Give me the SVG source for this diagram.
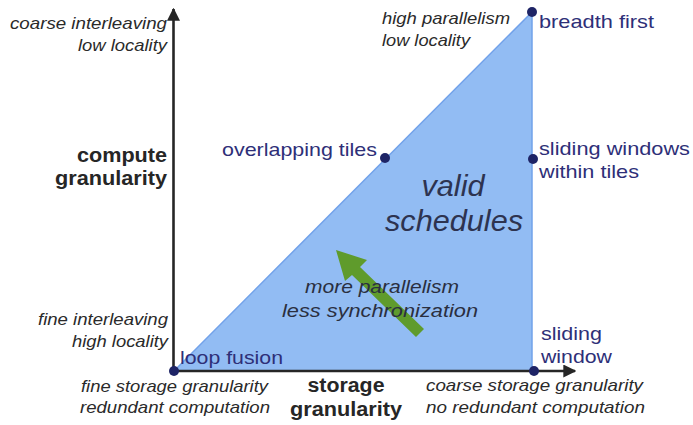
<svg xmlns="http://www.w3.org/2000/svg" width="693" height="425" viewBox="0 0 693 425">
  <defs>
    <marker id="axisHead" viewBox="0 0 10 10" refX="9" refY="5" markerWidth="5" markerHeight="5" markerUnits="strokeWidth" orient="auto">
      <path d="M0,0 L10,5 L0,10 Z" fill="#262626"/>
    </marker>
  </defs>
  <style>
    text { font-family: "Liberation Sans", Arial, Helvetica, sans-serif; }
    .note { font-size: 17px; font-style: italic; fill: #2a2a2a; }
    .axis-title { font-size: 20px; font-weight: bold; fill: #262626; }
    .point-label { font-size: 19px; fill: #2e2f78; }
    .region { font-size: 30px; font-style: italic; fill: #2d3350; }
    .trend { font-size: 19px; font-style: italic; fill: #2a2f40; }
    .dot { fill: #1e2466; }
    .axis { stroke: #262626; stroke-width: 2.6; fill: none; }
  </style>

  <!-- region of valid schedules -->
  <g id="valid-region">
    <polygon points="174,371 532,12 532,371" fill="#92bcf3" stroke="#72a2ea" stroke-width="1.5"/>
    <text class="region" x="453" y="196" text-anchor="middle" textLength="63" lengthAdjust="spacingAndGlyphs">valid</text>
    <text class="region" x="454" y="231" text-anchor="middle" textLength="138" lengthAdjust="spacingAndGlyphs">schedules</text>
  </g>

  <!-- axes -->
  <g id="connectors">
    <line class="axis" x1="173.5" y1="372" x2="173.5" y2="9" marker-end="url(#axisHead)"/>
    <line class="axis" x1="172" y1="371" x2="575" y2="371" marker-end="url(#axisHead)"/>
  </g>

  <!-- trend arrow -->
  <g id="trend-arrow">
    <polygon points="336,250 367,260 360,267 424,329 416,337 352,275 345,281" fill="#5f9b2c"/>
    <text class="trend" x="305" y="293" textLength="154" lengthAdjust="spacingAndGlyphs">more parallelism</text>
    <text class="trend" x="282" y="317" textLength="196" lengthAdjust="spacingAndGlyphs">less synchronization</text>
  </g>

  <!-- axis titles -->
  <g id="compute-granularity">
    <text class="axis-title" x="167" y="162" text-anchor="end" textLength="90" lengthAdjust="spacingAndGlyphs">compute</text>
    <text class="axis-title" x="167" y="185" text-anchor="end" textLength="112" lengthAdjust="spacingAndGlyphs">granularity</text>
  </g>
  <g id="storage-granularity">
    <text class="axis-title" x="346" y="392" text-anchor="middle" textLength="77" lengthAdjust="spacingAndGlyphs">storage</text>
    <text class="axis-title" x="346" y="416" text-anchor="middle" textLength="112" lengthAdjust="spacingAndGlyphs">granularity</text>
  </g>

  <!-- axis extremes -->
  <g id="coarse-interleaving">
    <text class="note" x="167" y="29" text-anchor="end" textLength="157" lengthAdjust="spacingAndGlyphs">coarse interleaving</text>
    <text class="note" x="167" y="51" text-anchor="end" textLength="89" lengthAdjust="spacingAndGlyphs">low locality</text>
  </g>
  <g id="fine-interleaving">
    <text class="note" x="168" y="325" text-anchor="end" textLength="130" lengthAdjust="spacingAndGlyphs">fine interleaving</text>
    <text class="note" x="168" y="347" text-anchor="end" textLength="96" lengthAdjust="spacingAndGlyphs">high locality</text>
  </g>
  <g id="fine-storage">
    <text class="note" x="81" y="392" textLength="187" lengthAdjust="spacingAndGlyphs">fine storage granularity</text>
    <text class="note" x="80" y="413" textLength="190" lengthAdjust="spacingAndGlyphs">redundant computation</text>
  </g>
  <g id="coarse-storage">
    <text class="note" x="426" y="391" textLength="217" lengthAdjust="spacingAndGlyphs">coarse storage granularity</text>
    <text class="note" x="426" y="413" textLength="219" lengthAdjust="spacingAndGlyphs">no redundant computation</text>
  </g>
  <g id="high-parallelism">
    <text class="note" x="382" y="24" textLength="128" lengthAdjust="spacingAndGlyphs">high parallelism</text>
    <text class="note" x="382" y="46" textLength="88" lengthAdjust="spacingAndGlyphs">low locality</text>
  </g>

  <!-- schedule points -->
  <g id="loop-fusion">
    <circle class="dot" cx="174" cy="371" r="5"/>
    <text class="point-label" x="180" y="364" textLength="103" lengthAdjust="spacingAndGlyphs">loop fusion</text>
  </g>
  <g id="overlapping-tiles">
    <circle class="dot" cx="385" cy="158" r="5"/>
    <text class="point-label" x="377" y="156" text-anchor="end" textLength="155" lengthAdjust="spacingAndGlyphs">overlapping tiles</text>
  </g>
  <g id="breadth-first">
    <circle class="dot" cx="532" cy="12" r="5"/>
    <text class="point-label" x="539" y="28" textLength="115" lengthAdjust="spacingAndGlyphs">breadth first</text>
  </g>
  <g id="sliding-windows-tiles">
    <circle class="dot" cx="533" cy="159" r="5"/>
    <text class="point-label" x="539" y="155" textLength="151" lengthAdjust="spacingAndGlyphs">sliding windows</text>
    <text class="point-label" x="539" y="178" textLength="100" lengthAdjust="spacingAndGlyphs">within tiles</text>
  </g>
  <g id="sliding-window">
    <circle class="dot" cx="534" cy="371" r="5"/>
    <text class="point-label" x="541" y="340" textLength="61" lengthAdjust="spacingAndGlyphs">sliding</text>
    <text class="point-label" x="541" y="363" textLength="71" lengthAdjust="spacingAndGlyphs">window</text>
  </g>
</svg>
